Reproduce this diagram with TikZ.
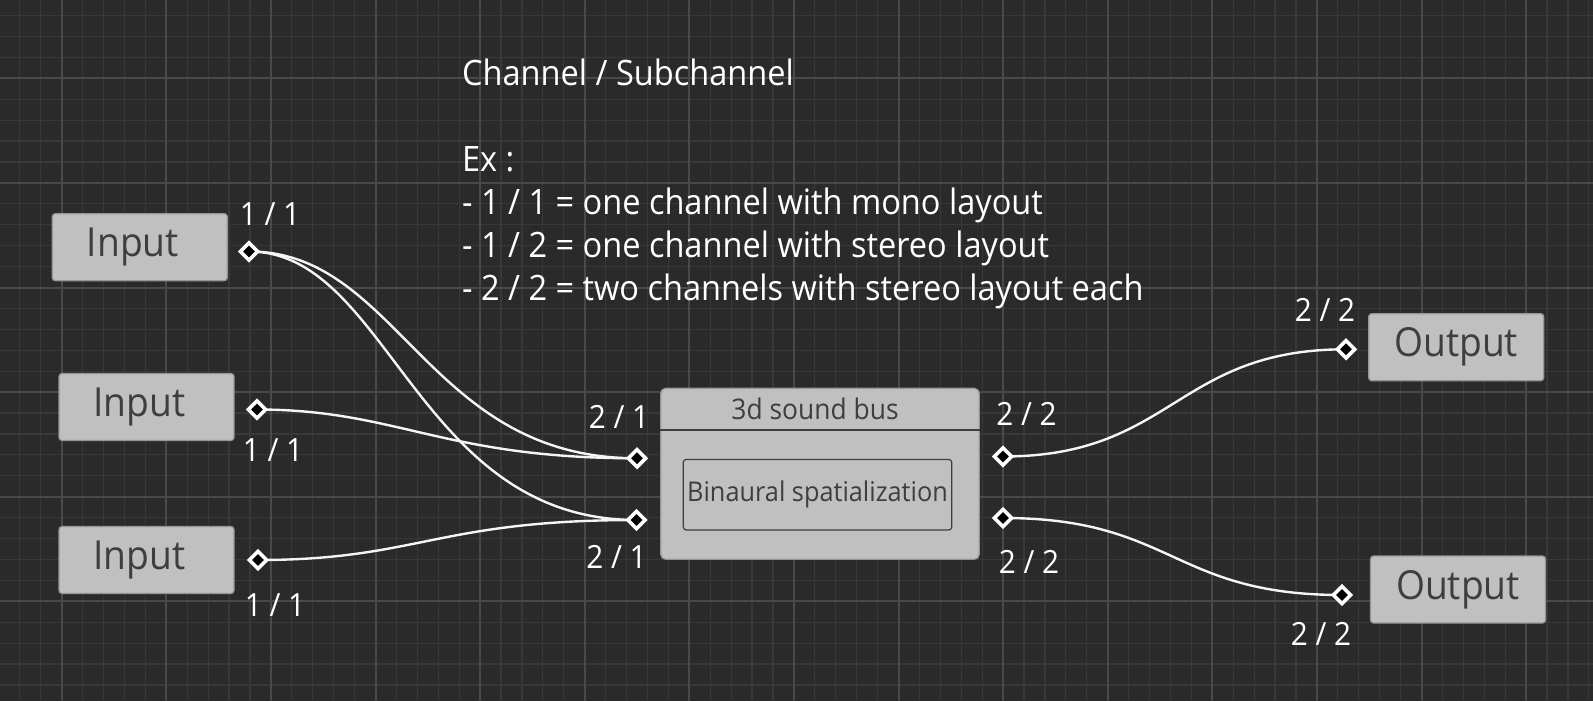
\documentclass[tikz,border=0pt]{standalone}
\usepackage{fontspec}
\setmainfont{Open Sans}[FakeStretch=0.93]
\usetikzlibrary{shapes.geometric}

\definecolor{canvas}{RGB}{42,42,42}
\definecolor{gridminor}{RGB}{55,56,55}
\definecolor{gridmajor}{RGB}{72,74,72}
\definecolor{boxfill}{RGB}{192,192,192}
\definecolor{boxtext}{RGB}{62,62,62}
\definecolor{boxedge}{RGB}{150,150,150}
\definecolor{wire}{RGB}{245,245,245}

\pgfdeclarelayer{grid}
\pgfdeclarelayer{wires}
\pgfsetlayers{grid,wires,main}

\tikzset{
  iobox/.style={draw=boxedge, line width=0.6pt, fill=boxfill, text=boxtext,
    rounded corners=1.5pt, minimum width=87.5pt, minimum height=33.5pt,
    inner sep=0pt, font=\fontsize{20}{24}\selectfont},
  port/.style={diamond, draw=white, fill=black, line width=1.8pt,
    minimum size=9.4pt, inner sep=0pt},
  portlbl/.style={text=white, anchor=base, font=\fontsize{16}{19}\selectfont},
  link/.style={draw=wire, line width=1.2pt},
  notes/.style={text=white, align=left, anchor=base west, inner sep=0pt,
    font=\fontsize{17.5}{21.5}\selectfont},
}

\begin{document}
\begin{tikzpicture}[x=0.5pt, y=-0.5pt]
  \useasboundingbox (0,0) rectangle (1593,701);
  % canvas and grid
  \begin{pgfonlayer}{grid}
    \fill[canvas] (0,0) rectangle (1593,701);
    \begin{scope}
      \clip (0,0) rectangle (1593,701);
      \foreach \k in {-3,...,73}
        \draw[gridminor, line width=0.6pt] ({61.7+\k*20.92},0) -- ++(0,701);
      \foreach \k in {-4,...,30}
        \draw[gridminor, line width=0.6pt] (0,{78.3+\k*20.92}) -- ++(1593,0);
      \foreach \k in {-1,...,15}
        \draw[gridmajor, line width=1pt] ({61.7+\k*104.6},0) -- ++(0,701);
      \foreach \k in {-1,...,6}
        \draw[gridmajor, line width=1pt] (0,{78.3+\k*104.6}) -- ++(1593,0);
    \end{scope}
  \end{pgfonlayer}

  % explanation (base is the last line)
  \node[notes] (legend) at (461.7,300) {Channel / Subchannel\\[21.5pt]
    Ex :\\
    - 1 / 1 = one channel with mono layout\\
    - 1 / 2 = one channel with stereo layout\\
    - 2 / 2 = two channels with stereo layout each};

  % inputs
  \node[iobox] (in1) at (139.8,247.2) {Input\hspace*{7pt}};
  \node[iobox] (in2) at (146.5,407) {Input\hspace*{7pt}};
  \node[iobox] (in3) at (146.5,560) {Input\hspace*{7pt}};
  \node[port] (in1p) at (249,251.5) {};
  \node[port] (in2p) at (257,409.5) {};
  \node[port] (in3p) at (258,560) {};
  \node[portlbl] (in1l) at (270,225) {1 / 1};
  \node[portlbl] (in2l) at (273,461.5) {1 / 1};
  \node[portlbl] (in3l) at (275,616) {1 / 1};

  % 3d sound bus
  \node[iobox, rounded corners=2.5pt, minimum width=159.3pt, minimum height=85.5pt]
    (bus) at (820,473.8) {};
  \draw[boxtext, line width=1pt] (bus.west |- 0,430) -- (bus.east |- 0,430);
  \node[anchor=base, text=boxtext, font=\fontsize{14.2}{17}\selectfont]
    (title) at (815,419.3) {3d sound bus};
  \node[iobox, draw=boxtext, minimum width=134.2pt, minimum height=35.3pt,
    font=\fontsize{13.6}{16}\selectfont] (spat) at (817.5,494.7) {Binaural spatialization};
  \node[port] (bl1) at (637,458.3) {};
  \node[port] (bl2) at (636.5,520) {};
  \node[port] (br1) at (1003,456.5) {};
  \node[port] (br2) at (1003,518) {};
  \node[portlbl] (bl1l) at (619,428) {2 / 1};
  \node[portlbl] (bl2l) at (616.5,568) {2 / 1};
  \node[portlbl] (br1l) at (1026.5,425) {2 / 2};
  \node[portlbl] (br2l) at (1029,573) {2 / 2};

  % outputs
  \node[iobox] (out1) at (1456.2,347.2) {Output};
  \node[iobox] (out2) at (1458,589.5) {Output};
  \node[port] (out1p) at (1346,349.3) {};
  \node[port] (out2p) at (1342,595) {};
  \node[portlbl] (out1l) at (1325,321.7) {2 / 2};
  \node[portlbl] (out2l) at (1321,645) {2 / 2};

  % wires
  \begin{pgfonlayer}{wires}
    \draw[link] (in1p.center) .. controls +(150,0) and +(-210,0) .. (bl1.center);
    \draw[link] (in1p.center) .. controls +(140,0) and +(-220,0) .. (bl2.center);
    \draw[link] (in2p.center) .. controls +(140,0) and +(-195,0) .. (bl1.center);
    \draw[link] (in3p.center) .. controls +(160,0) and +(-200,0) .. (bl2.center);
    \draw[link] (br1.center) .. controls +(170,0) and +(-170,0) .. (out1p.center);
    \draw[link] (br2.center) .. controls +(170,0) and +(-170,0) .. (out2p.center);
  \end{pgfonlayer}
\end{tikzpicture}
\end{document}
